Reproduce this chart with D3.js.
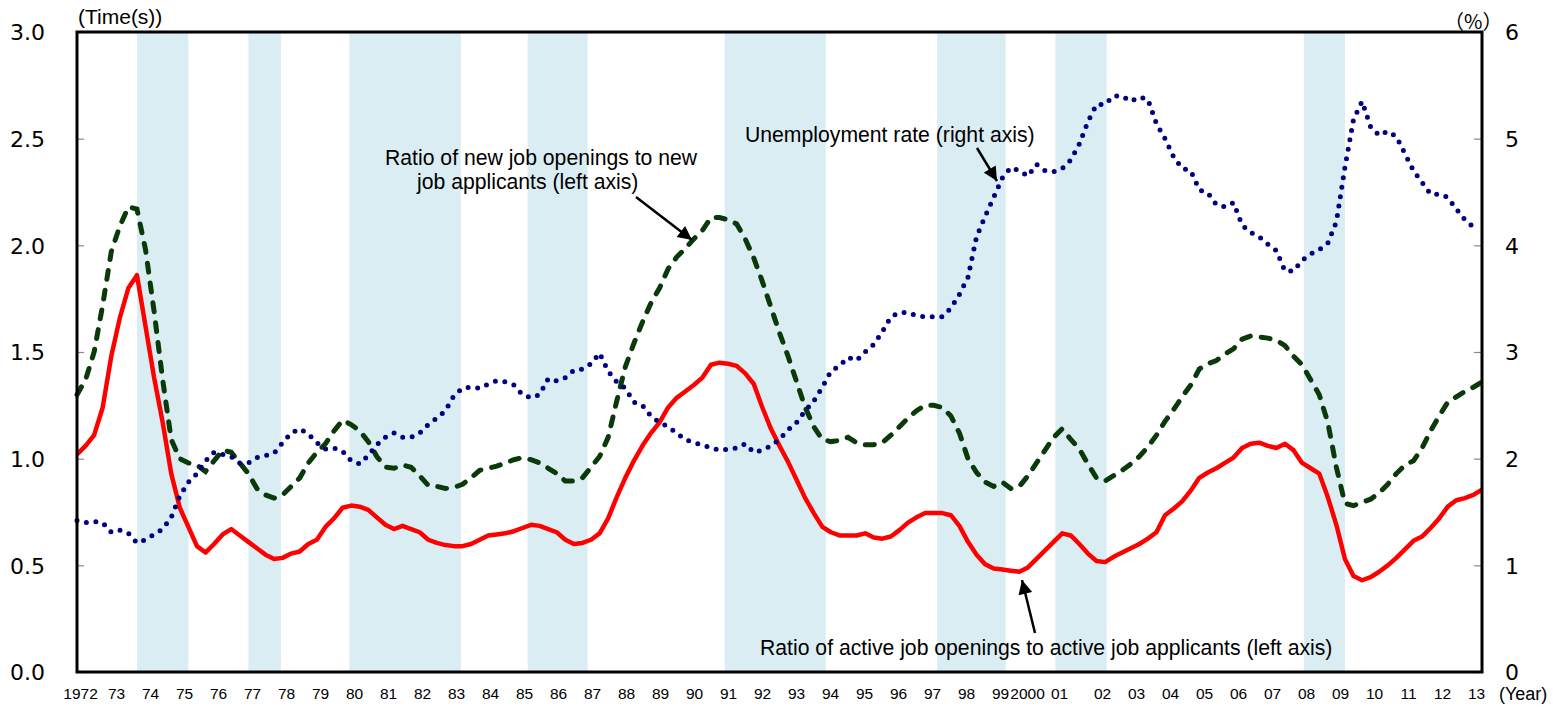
<!DOCTYPE html>
<html>
<head>
<meta charset="utf-8">
<script src="https://cdn.jsdelivr.net/npm/d3@7/dist/d3.min.js"></script>
<style>
  body { margin: 0; background: #fff; }
  svg text { font-family: "Liberation Sans", Arial, sans-serif; fill: #000; }
</style>
</head>
<body>
<svg id="chart"></svg>
<script>
// quarterly data, 1972 Q1 .. 2013 Q1
var startYear = 1972;

// ratio of active job openings to active job applicants (left axis)
var activeRatio = [
  1.02, 1.06, 1.11, 1.24, 1.48, 1.66, 1.80, 1.86, 1.62, 1.38,
  1.17, 0.93, 0.77, 0.68, 0.59, 0.56, 0.60, 0.645, 0.67, 0.64,
  0.61, 0.58, 0.55, 0.53, 0.535, 0.555, 0.565, 0.60, 0.62, 0.68,
  0.72, 0.77, 0.78, 0.775, 0.76, 0.725, 0.69, 0.67, 0.685, 0.67,
  0.655, 0.62, 0.605, 0.595, 0.59, 0.59, 0.60, 0.62, 0.64, 0.645,
  0.65, 0.66, 0.675, 0.69, 0.685, 0.67, 0.655, 0.62, 0.60, 0.605,
  0.62, 0.65, 0.72, 0.82, 0.91, 0.99, 1.06, 1.12, 1.17, 1.24,
  1.285, 1.315, 1.345, 1.38, 1.44, 1.45, 1.445, 1.435, 1.40, 1.35,
  1.24, 1.14, 1.06, 0.985, 0.90, 0.815, 0.745, 0.68, 0.655, 0.64,
  0.64, 0.64, 0.65, 0.63, 0.625, 0.635, 0.665, 0.70, 0.725, 0.745,
  0.745, 0.745, 0.735, 0.685, 0.61, 0.55, 0.505, 0.485, 0.48, 0.475,
  0.47, 0.49, 0.53, 0.57, 0.61, 0.65, 0.64, 0.60, 0.555, 0.52,
  0.515, 0.54, 0.56, 0.58, 0.60, 0.625, 0.655, 0.735, 0.765, 0.80,
  0.85, 0.91, 0.935, 0.955, 0.98, 1.005, 1.05, 1.07, 1.075, 1.06,
  1.05, 1.07, 1.04, 0.98, 0.955, 0.93, 0.82, 0.69, 0.53, 0.45,
  0.43, 0.445, 0.47, 0.50, 0.535, 0.575, 0.615, 0.635, 0.675, 0.72,
  0.775, 0.805, 0.815, 0.83, 0.855
];

// ratio of new job openings to new job applicants (left axis)
var newRatio = [
  1.30, 1.37, 1.50, 1.72, 1.97, 2.09, 2.18, 2.17, 1.98, 1.69,
  1.37, 1.09, 1.00, 0.98, 0.97, 0.94, 0.99, 1.04, 1.03, 0.98,
  0.93, 0.86, 0.83, 0.815, 0.83, 0.87, 0.91, 0.98, 1.03, 1.07,
  1.13, 1.18, 1.16, 1.13, 1.08, 1.01, 0.96, 0.955, 0.97, 0.96,
  0.92, 0.875, 0.87, 0.86, 0.865, 0.88, 0.91, 0.945, 0.955, 0.965,
  0.98, 0.995, 1.005, 0.995, 0.98, 0.955, 0.93, 0.895, 0.895, 0.91,
  0.96, 1.01, 1.10, 1.27, 1.43, 1.54, 1.64, 1.73, 1.80, 1.89,
  1.945, 1.985, 2.03, 2.07, 2.13, 2.13, 2.12, 2.10, 2.03, 1.94,
  1.83, 1.71, 1.59, 1.48, 1.36, 1.24, 1.15, 1.09, 1.08, 1.085,
  1.10, 1.075, 1.065, 1.065, 1.075, 1.11, 1.15, 1.19, 1.225, 1.25,
  1.25, 1.24, 1.20, 1.12, 1.00, 0.935, 0.89, 0.87, 0.89, 0.86,
  0.87, 0.92, 0.98, 1.04, 1.10, 1.14, 1.09, 1.045, 0.975, 0.91,
  0.895, 0.92, 0.945, 0.975, 1.01, 1.055, 1.11, 1.175, 1.23, 1.29,
  1.345, 1.42, 1.445, 1.46, 1.49, 1.515, 1.56, 1.575, 1.57, 1.565,
  1.555, 1.53, 1.48, 1.44, 1.37, 1.30, 1.17, 0.96, 0.79, 0.78,
  0.795, 0.81, 0.84, 0.88, 0.93, 0.97, 0.99, 1.05, 1.13, 1.20,
  1.265, 1.29, 1.315, 1.335, 1.36
];

// unemployment rate, % (right axis), ends 2012 Q4
var unemployment = [
  1.42, 1.40, 1.41, 1.40, 1.31, 1.33, 1.30, 1.21, 1.24, 1.29,
  1.34, 1.45, 1.65, 1.78, 1.86, 1.98, 2.06, 2.04, 2.02, 1.96,
  1.96, 2.01, 2.03, 2.05, 2.15, 2.24, 2.28, 2.23, 2.15, 2.09,
  2.10, 2.07, 1.98, 1.95, 2.03, 2.13, 2.20, 2.24, 2.20, 2.20,
  2.24, 2.32, 2.38, 2.45, 2.59, 2.66, 2.67, 2.66, 2.70, 2.73,
  2.72, 2.69, 2.60, 2.57, 2.60, 2.75, 2.73, 2.76, 2.83, 2.84,
  2.89, 2.99, 2.82, 2.72, 2.66, 2.53, 2.50, 2.40, 2.34, 2.30,
  2.24, 2.18, 2.15, 2.13, 2.10, 2.08, 2.09, 2.10, 2.14, 2.06,
  2.08, 2.12, 2.18, 2.27, 2.34, 2.45, 2.54, 2.67, 2.82, 2.87,
  2.95, 2.92, 3.00, 3.07, 3.19, 3.33, 3.37, 3.37, 3.34, 3.33,
  3.33, 3.33, 3.41, 3.54, 3.70, 4.08, 4.27, 4.45, 4.63, 4.73,
  4.70, 4.65, 4.76, 4.70, 4.69, 4.72, 4.80, 4.95, 5.16, 5.32,
  5.32, 5.40, 5.40, 5.35, 5.39, 5.37, 5.14, 5.00, 4.83, 4.72,
  4.70, 4.52, 4.49, 4.38, 4.36, 4.40, 4.19, 4.12, 4.08, 4.01,
  3.95, 3.76, 3.76, 3.86, 3.92, 3.96, 4.02, 4.22, 4.73, 5.18,
  5.35, 5.11, 5.03, 5.07, 5.02, 4.86, 4.70, 4.59, 4.48, 4.48,
  4.45, 4.34, 4.24, 4.17
];

// recession periods (shaded), in years
var recessions = [
  [1973.75, 1975.25], [1977.0, 1977.95], [1979.95, 1983.2], [1985.15, 1986.9],
  [1990.9, 1993.85], [1997.1, 1999.1], [2000.55, 2002.05], [2007.8, 2009.0]
];

var leftTicks = [0, 0.5, 1.0, 1.5, 2.0, 2.5, 3.0];
var rightTicks = [0, 1, 2, 3, 4, 5, 6];
var firstYear = 1972, lastYear = 2013;

var W = 1553, H = 709;
var margin = {top: 32, right: 71, bottom: 37, left: 77},
    width = W - margin.left - margin.right,
    height = H - margin.top - margin.bottom;

var svg = d3.select("#chart")
    .attr("width", W)
    .attr("height", H);

var g = svg.append("g")
    .attr("transform", "translate(" + margin.left + "," + margin.top + ")");

// scales
var x = d3.scaleLinear().domain([firstYear, lastYear]).range([0, width]);
// year labels sit on their own category positions
var xLabel = d3.scaleLinear().domain([firstYear, lastYear]).range([5, width - 6]);
var yLeft = d3.scaleLinear().domain([0, 3]).range([height, 0]);
var yRight = d3.scaleLinear().domain([0, 6]).range([height, 0]);

var qTime = function(i) { return startYear + i / 4; };

// recession bands
g.selectAll("rect.band")
    .data(recessions)
  .enter().append("rect")
    .attr("class", "band")
    .attr("x", function(d) { return x(d[0]); })
    .attr("width", function(d) { return x(d[1]) - x(d[0]); })
    .attr("y", 0)
    .attr("height", height)
    .attr("fill", "#daedf3");

// left axis
var leftAxis = g.append("g")
    .call(d3.axisLeft(yLeft)
        .tickValues(leftTicks)
        .tickSizeInner(-7)
        .tickSizeOuter(0)
        .tickPadding(32)
        .tickFormat(d3.format(".1f")));
leftAxis.select(".domain").remove();
leftAxis.selectAll("line").attr("stroke", "#888").attr("stroke-width", 1.2);
leftAxis.selectAll("text")
    .style("font-family", "'DejaVu Sans', sans-serif")
    .style("font-size", "22px")
    .attr("dy", "0.36em");

// right axis
var rightAxis = g.append("g")
    .attr("transform", "translate(" + width + ",0)")
    .call(d3.axisRight(yRight)
        .tickValues(rightTicks)
        .tickSizeInner(-8)
        .tickSizeOuter(0)
        .tickPadding(23)
        .tickFormat(d3.format("d")));
rightAxis.select(".domain").remove();
rightAxis.selectAll("line").attr("stroke", "#888").attr("stroke-width", 1.2);
rightAxis.selectAll("text")
    .style("font-family", "'DejaVu Sans', sans-serif")
    .style("font-size", "22px")
    .attr("dy", "0.36em");

// bottom axis: year labels
var bottomAxis = g.append("g")
    .attr("transform", "translate(0," + height + ")")
    .call(d3.axisBottom(xLabel)
        .tickValues(d3.range(firstYear, lastYear + 1))
        .tickSize(0)
        .tickPadding(16)
        .tickFormat(function(d) {
            return (d === 1972 || d === 2000) ? String(d) : String(d % 100).padStart(2, "0");
        }));
bottomAxis.select(".domain").remove();
bottomAxis.selectAll("text")
    .style("font-size", "15.5px")
    .attr("dx", function(d) {
        if (d === 1972) return -2;
        if (d === 2000) return -7;
        if (d === 2001) return -9;
        return 0;
    });

// lines
var lineLeft = d3.line()
    .x(function(d, i) { return x(qTime(i)); })
    .y(function(d) { return yLeft(d); });
var lineRight = d3.line()
    .x(function(d, i) { return x(qTime(i)); })
    .y(function(d) { return yRight(d); });

g.append("path")
    .datum(newRatio)
    .attr("fill", "none")
    .attr("stroke", "#0a3a0a")
    .attr("stroke-width", 5)
    .attr("stroke-linecap", "round")
    .attr("stroke-dasharray", "9 11")
    .attr("d", lineLeft);

g.append("path")
    .datum(activeRatio)
    .attr("fill", "none")
    .attr("stroke", "#ff0000")
    .attr("stroke-width", 4.5)
    .attr("stroke-linejoin", "round")
    .attr("d", lineLeft);

g.append("path")
    .datum(unemployment)
    .attr("fill", "none")
    .attr("stroke", "#000080")
    .attr("stroke-width", 5)
    .attr("stroke-linecap", "round")
    .attr("stroke-dasharray", "0 9.6")
    .attr("d", lineRight);

// plot frame
g.append("rect")
    .attr("x", 0)
    .attr("y", 0)
    .attr("width", width)
    .attr("height", height)
    .attr("fill", "none")
    .attr("stroke", "#000")
    .attr("stroke-width", 3);

// unit labels
svg.append("text")
    .attr("x", 78).attr("y", 24)
    .style("font-size", "21px")
    .text("(Time(s))");
svg.append("text")
    .attr("x", 1444).attr("y", 29)
    .style("font-family", "'Noto Sans CJK JP', sans-serif")
    .style("font-size", "20px")
    .text("（%）");
svg.append("text")
    .attr("x", 1499).attr("y", 700)
    .style("font-size", "18px")
    .text("(Year)");

// annotations
svg.append("defs").append("marker")
    .attr("id", "arrow")
    .attr("viewBox", "0 0 10 10")
    .attr("refX", 10).attr("refY", 5)
    .attr("markerUnits", "userSpaceOnUse")
    .attr("markerWidth", 16).attr("markerHeight", 14)
    .attr("orient", "auto")
  .append("path")
    .attr("d", "M0,0 L10,5 L0,10 Z")
    .attr("fill", "#000");

var notes = [
    {text: "Ratio of new job openings to new", x: 385, y: 165},
    {text: "job applicants (left axis)", x: 417, y: 189},
    {text: "Unemployment rate (right axis)", x: 745, y: 142},
    {text: "Ratio of active job openings to active job applicants (left axis)", x: 760, y: 655}
];
notes.forEach(function(n) {
    svg.append("text")
        .attr("x", n.x).attr("y", n.y)
        .style("font-size", "21.2px")
        .text(n.text);
});

var arrows = [
    [636, 197, 692, 240],
    [977, 148, 997, 181],
    [1035, 633, 1022, 580]
];
svg.selectAll("line.arrow")
    .data(arrows)
  .enter().append("line")
    .attr("class", "arrow")
    .attr("x1", function(d) { return d[0]; })
    .attr("y1", function(d) { return d[1]; })
    .attr("x2", function(d) { return d[2]; })
    .attr("y2", function(d) { return d[3]; })
    .attr("stroke", "#000")
    .attr("stroke-width", 2.5)
    .attr("marker-end", "url(#arrow)");
</script>
</body>
</html>
